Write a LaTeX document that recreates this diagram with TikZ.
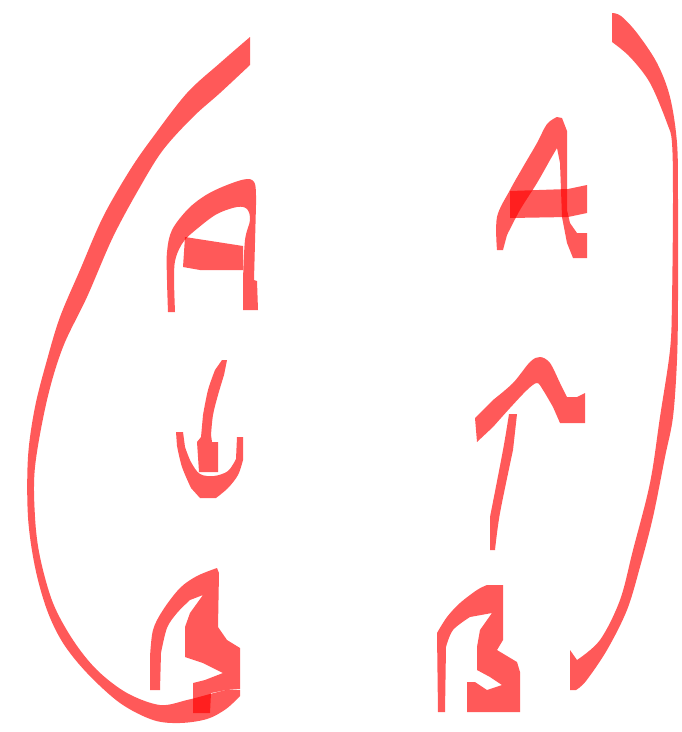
\documentclass[tikz,border=0pt]{standalone}
\tikzset{sketch/.style={
  x=1pt,y=-1pt,
  line join=round,line cap=round
},
ink/.style={fill=red,fill opacity=0.65},
curve/.style={smooth,tension=0.55}
}

\begin{document}
\begin{tikzpicture}[sketch]
  \useasboundingbox (0,0) rectangle (682,732);

  % left bracket
  \fill[ink] plot[curve] coordinates {(250,37) (220,63) (187,93) (153,137) (130,170)
      (103,217) (80,270) (60,317) (47,360) (35,407) (28,457) (28,517) (35,567)
      (47,610) (63,643) (87,673) (120,703) (153,720) (180,723) (207,719) (226,709) (240,696)}
    -- (240,690)
    -- plot[curve] coordinates {(226,690) (210,694) (187,700) (160,705) (127,693)
      (97,670) (73,640) (53,603) (40,557) (35,517) (35,467) (47,400) (63,347)
      (87,297) (113,237) (140,187) (163,150) (193,117) (220,93) (250,65)} -- cycle;

  % right bracket
  \fill[ink] plot[curve] coordinates {(612,13) (621,16) (637,33) (657,63) (670,97)
      (677,143) (678,200) (678,300) (677,360) (673,417) (665,457) (653,517)
      (640,567) (627,610) (607,650) (586,681) (576,690)}
    -- (570,690) -- (570,650)
    -- plot[curve] coordinates {(577,660) (600,640) (620,600) (633,550) (650,483)
      (660,417) (670,350) (672,300) (673,200) (672,143) (667,123) (650,83)
      (630,57) (612,42)} -- cycle;

  % left A
  \fill[ink] plot[curve] coordinates {(168,312) (167,280) (167,252) (172,230) (188,209)
      (206,195) (227,185) (247,179) (255,184) (256,205)}
    -- (254,280) -- (257,281) -- (258,310) -- (243,310)
    -- plot[curve] coordinates {(243,280) (245,240) (250,220) (247,209) (237,207)
      (217,214) (198,228) (184,241) (176,257) (174,275) (175,312)} -- cycle;
  \fill[ink] (185,237) -- (243,246) -- (243,270) -- (200,270) -- (183,267) -- cycle;

  % left arrow, down
  \fill[ink] (222,360) -- (227,360) -- plot[curve] coordinates {(224,375) (218,395)
      (213,415) (211,435)} -- (212,442) -- (218,442) -- (218,472) -- (199,472)
    -- (197,442) -- (201,437) -- plot[curve] coordinates {(203,415) (208,390) (215,370)} -- cycle;
  \fill[ink] (176,432) -- (183,432)
    -- plot[curve] coordinates {(185,447) (191,462) (200,474) (214,476) (228,471) (236,459)}
    -- (237,437) -- (243,437)
    -- plot[curve] coordinates {(243,460) (238,475) (228,488) (216,498)}
    -- (200,498) -- plot[curve] coordinates {(191,488) (182,467) (177,446)} -- cycle;

  % left B
  \fill[ink] (150,690) -- plot[curve] coordinates {(150,657) (153,630) (163,610)
      (180,588) (197,576) (217,568)} -- (219,573) -- (218,627) -- (227,640)
    -- (240,648) -- (240,689) -- (226,690) -- (211,693) -- (210,713) -- (193,713)
    -- (193,683) -- (205,680) -- (223,673) -- (203,663) -- (185,657) -- (185,627)
    -- (190,613) -- (203,595)
    -- plot[curve] coordinates {(190,600) (177,613) (167,628) (161,653)} -- (160,690) -- cycle;

  % right A
  \fill[ink] plot[curve] coordinates {(497,250) (497,217) (510,190) (523,167) (537,143)
      (547,124) (557,117)} -- (562,118) -- (567,131) -- (567,210) -- (570,223)
    -- (577,233) -- (587,233) -- (587,258) -- (573,258) -- (567,243) -- (562,217)
    -- (560,163) -- (557,148)
    -- plot[curve] coordinates {(550,160) (537,183) (520,210) (507,235)} -- (503,250) -- cycle;
  \fill[ink] (510,191) -- (568,189) -- (587,185) -- (587,213) -- (568,217) -- (510,218) -- cycle;

  % right arrow, up
  \fill[ink] (490,550) -- plot[curve] coordinates {(490,517) (503,450) (509,414)}
    -- (517,414) -- plot[curve] coordinates {(513,450) (500,513) (495,550)} -- cycle;
  \fill[ink] (475,418) -- plot[curve] coordinates {(493,400) (513,383) (530,362)
      (540,357) (550,363) (560,383) (567,397)} -- (577,397) -- (585,393) -- (585,423)
    -- (560,423) -- plot[curve] coordinates {(553,407) (543,390) (537,383) (527,390)
      (510,408) (493,427)} -- (477,442) -- cycle;

  % right B
  \fill[ink] (438,712) -- plot[curve] coordinates {(437,633) (447,617) (460,603)
      (477,590) (487,585)} -- (503,585) -- (503,640) -- (497,650) -- (517,662)
    -- (520,672) -- (520,712) -- (467,712) -- (467,682) -- (475,682) -- (487,690)
    -- (502,685) -- (490,677) -- (477,670) -- (477,647) -- (480,630) -- (492,613)
    -- plot[curve] coordinates {(470,617) (453,630) (446,647)} -- (445,712) -- cycle;
\end{tikzpicture}
\end{document}
